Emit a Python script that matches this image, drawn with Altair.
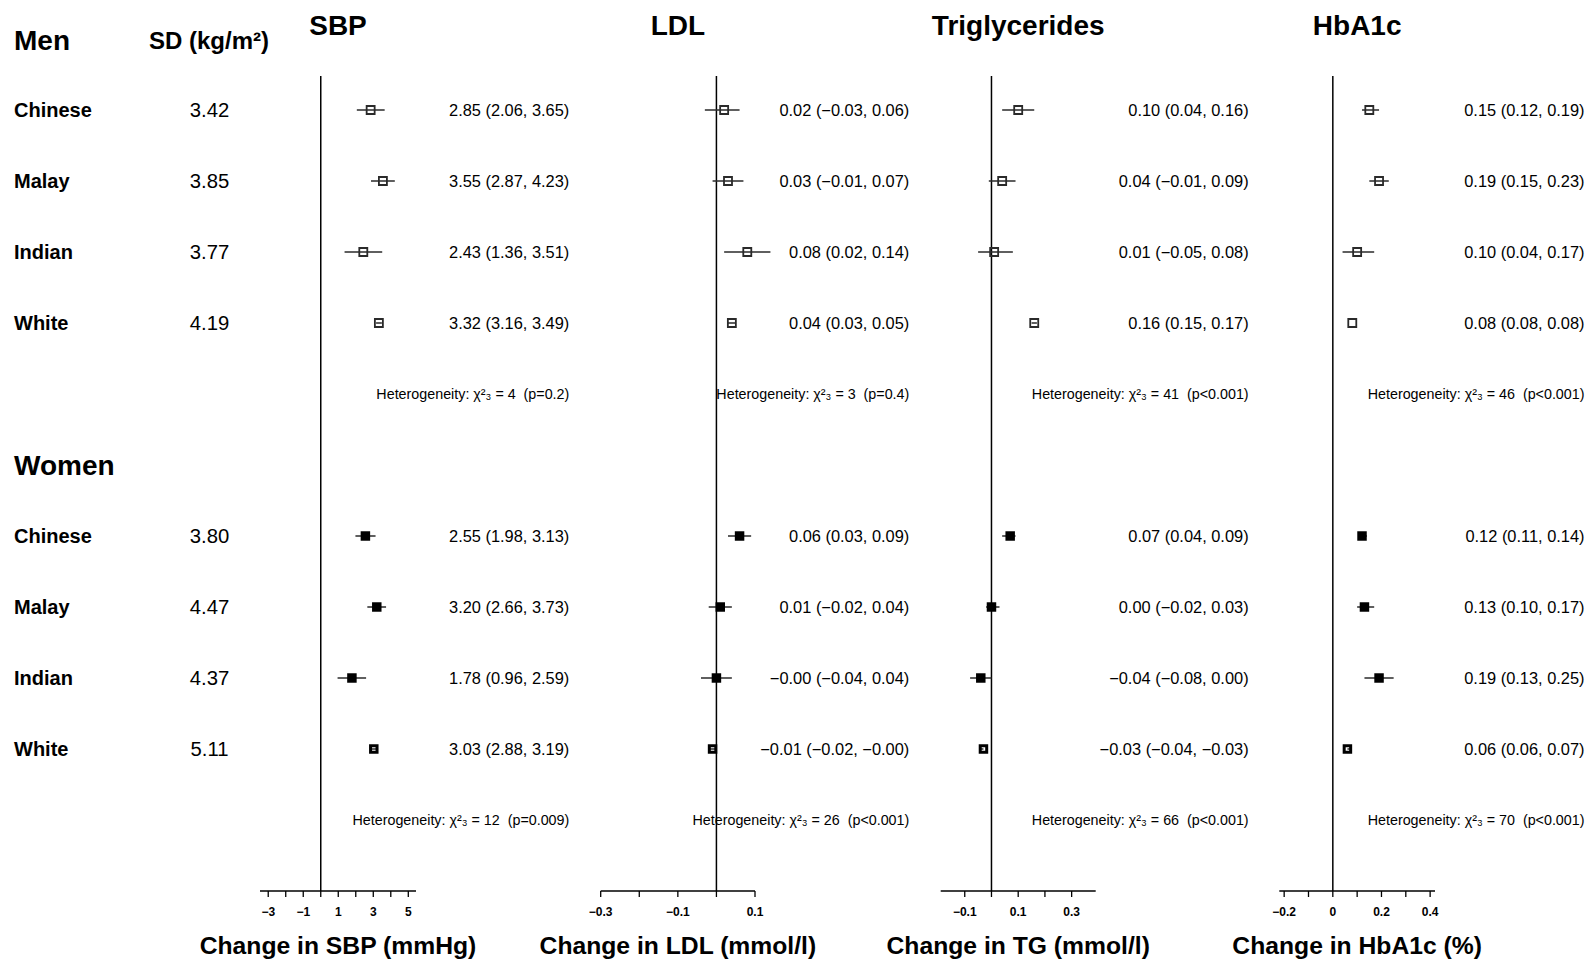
import altair as alt
import pandas as pd

FONT = "Liberation Sans"
NB = "\u00a0"

# ---------------- data ----------------
groups = ["Chinese", "Malay", "Indian", "White"]
sd_men = ["3.42", "3.85", "3.77", "4.19"]
sd_women = ["3.80", "4.47", "4.37", "5.11"]

panels = ["SBP", "LDL", "Triglycerides", "HbA1c"]
axis_titles = ["Change in SBP (mmHg)", "Change in LDL (mmol/l)",
               "Change in TG (mmol/l)", "Change in HbA1c (%)"]

# men
sbp_m_est = [2.85, 3.55, 2.43, 3.32]
sbp_m_lo = [2.06, 2.87, 1.36, 3.16]
sbp_m_hi = [3.65, 4.23, 3.51, 3.49]
ldl_m_est = [0.02, 0.03, 0.08, 0.04]
ldl_m_lo = [-0.03, -0.01, 0.02, 0.03]
ldl_m_hi = [0.06, 0.07, 0.14, 0.05]
tg_m_est = [0.10, 0.04, 0.01, 0.16]
tg_m_lo = [0.04, -0.01, -0.05, 0.15]
tg_m_hi = [0.16, 0.09, 0.08, 0.17]
hb_m_est = [0.15, 0.19, 0.10, 0.08]
hb_m_lo = [0.12, 0.15, 0.04, 0.08]
hb_m_hi = [0.19, 0.23, 0.17, 0.08]
# women
sbp_w_est = [2.55, 3.20, 1.78, 3.03]
sbp_w_lo = [1.98, 2.66, 0.96, 2.88]
sbp_w_hi = [3.13, 3.73, 2.59, 3.19]
ldl_w_est = [0.06, 0.01, -0.00, -0.01]
ldl_w_lo = [0.03, -0.02, -0.04, -0.02]
ldl_w_hi = [0.09, 0.04, 0.04, -0.00]
tg_w_est = [0.07, 0.00, -0.04, -0.03]
tg_w_lo = [0.04, -0.02, -0.08, -0.04]
tg_w_hi = [0.09, 0.03, 0.00, -0.03]
hb_w_est = [0.12, 0.13, 0.19, 0.06]
hb_w_lo = [0.11, 0.10, 0.13, 0.06]
hb_w_hi = [0.14, 0.17, 0.25, 0.07]

sbp_m_lab = ["2.85 (2.06, 3.65)", "3.55 (2.87, 4.23)", "2.43 (1.36, 3.51)", "3.32 (3.16, 3.49)"]
ldl_m_lab = ["0.02 (\u22120.03, 0.06)", "0.03 (\u22120.01, 0.07)", "0.08 (0.02, 0.14)", "0.04 (0.03, 0.05)"]
tg_m_lab = ["0.10 (0.04, 0.16)", "0.04 (\u22120.01, 0.09)", "0.01 (\u22120.05, 0.08)", "0.16 (0.15, 0.17)"]
hb_m_lab = ["0.15 (0.12, 0.19)", "0.19 (0.15, 0.23)", "0.10 (0.04, 0.17)", "0.08 (0.08, 0.08)"]
sbp_w_lab = ["2.55 (1.98, 3.13)", "3.20 (2.66, 3.73)", "1.78 (0.96, 2.59)", "3.03 (2.88, 3.19)"]
ldl_w_lab = ["0.06 (0.03, 0.09)", "0.01 (\u22120.02, 0.04)", "\u22120.00 (\u22120.04, 0.04)", "\u22120.01 (\u22120.02, \u22120.00)"]
tg_w_lab = ["0.07 (0.04, 0.09)", "0.00 (\u22120.02, 0.03)", "\u22120.04 (\u22120.08, 0.00)", "\u22120.03 (\u22120.04, \u22120.03)"]
hb_w_lab = ["0.12 (0.11, 0.14)", "0.13 (0.10, 0.17)", "0.19 (0.13, 0.25)", "0.06 (0.06, 0.07)"]

het_men = ["Heterogeneity: \u03c7\u00b2\u2083 = 4  (p=0.2)", "Heterogeneity: \u03c7\u00b2\u2083 = 3  (p=0.4)",
           "Heterogeneity: \u03c7\u00b2\u2083 = 41  (p<0.001)", "Heterogeneity: \u03c7\u00b2\u2083 = 46  (p<0.001)"]
het_women = ["Heterogeneity: \u03c7\u00b2\u2083 = 12  (p=0.009)", "Heterogeneity: \u03c7\u00b2\u2083 = 26  (p<0.001)",
             "Heterogeneity: \u03c7\u00b2\u2083 = 66  (p<0.001)", "Heterogeneity: \u03c7\u00b2\u2083 = 70  (p<0.001)"]

# axes: extent of the drawn axis line, tick values, labelled ticks
axis_ext = [[-3.47, 5.44], [-0.3, 0.1], [-0.19, 0.39], [-0.22, 0.42]]
tick_vals = [[-3, -2, -1, 0, 1, 2, 3, 4, 5],
             [-0.3, -0.2, -0.1, 0, 0.1],
             [-0.1, 0, 0.1, 0.2, 0.3],
             [-0.2, -0.1, 0, 0.1, 0.2, 0.3, 0.4]]
label_vals = [[-3, -1, 1, 3, 5], [-0.3, -0.1, 0.1], [-0.1, 0.1, 0.3], [-0.2, 0, 0.2, 0.4]]
label_txt = [["\u22123", "\u22121", "1", "3", "5"], ["\u22120.3", "\u22120.1", "0.1"],
             ["\u22120.1", "0.1", "0.3"], ["\u22120.2", "0", "0.2", "0.4"]]

est_m = [sbp_m_est, ldl_m_est, tg_m_est, hb_m_est]
lo_m = [sbp_m_lo, ldl_m_lo, tg_m_lo, hb_m_lo]
hi_m = [sbp_m_hi, ldl_m_hi, tg_m_hi, hb_m_hi]
lab_m = [sbp_m_lab, ldl_m_lab, tg_m_lab, hb_m_lab]
est_w = [sbp_w_est, ldl_w_est, tg_w_est, hb_w_est]
lo_w = [sbp_w_lo, ldl_w_lo, tg_w_lo, hb_w_lo]
hi_w = [sbp_w_hi, ldl_w_hi, tg_w_hi, hb_w_hi]
lab_w = [sbp_w_lab, ldl_w_lab, tg_w_lab, hb_w_lab]

# ---------------- layout ----------------
W, H = 1577, 951          # whole drawing area (autosize none)
PLOT_H = 944              # pixel span used by the row scale
rows_men = [1, 2, 3, 4]
rows_women = [7, 8, 9, 10]
ROW_HET_M, ROW_HET_W, ROW_AXIS = 5, 11, 12
px_range = [[252, 408], [592.7, 747], [932.7, 1087.7], [1271.3, 1427]]
text_right = [561.3, 901.3, 1240.6, 1576.5]
DY = 1 / 71  # one pixel in row units

ys = alt.Scale(domain=[-31 / 71, 913 / 71], range=[0, PLOT_H], nice=False, zero=False)
INK = "#2a2a2a"


def Y(f):
    return alt.Y(f, type="quantitative", scale=ys, axis=None)


def panel(i):
    xs = alt.Scale(domain=axis_ext[i], range=px_range[i], nice=False, zero=False)

    def X(f):
        return alt.X(f, type="quantitative", scale=xs, axis=None)

    mid = (axis_ext[i][0] + axis_ext[i][1]) / 2
    men = pd.DataFrame({"row": rows_men, "est": est_m[i], "lo": lo_m[i], "hi": hi_m[i],
                        "lab": lab_m[i], "grp": groups})
    wom = pd.DataFrame({"row": rows_women, "est": est_w[i], "lo": lo_w[i], "hi": hi_w[i],
                        "lab": lab_w[i], "grp": groups})
    both = pd.concat([men, wom])
    both["trow"] = both["row"] + DY

    zero = alt.Chart(pd.DataFrame({"x": [0], "y": [0.52], "y2": [ROW_AXIS]})).mark_rule(
        color="black", strokeWidth=1.5).encode(x=X("x"), y=Y("y"), y2="y2")
    axline = alt.Chart(pd.DataFrame({"x": [axis_ext[i][0]], "x2": [axis_ext[i][1]],
                                     "y": [ROW_AXIS]})).mark_rule(
        color="black", strokeWidth=1.5).encode(x=X("x"), x2="x2", y=Y("y"))
    ticks = alt.Chart(pd.DataFrame({"x": tick_vals[i], "y": ROW_AXIS,
                                    "y2": ROW_AXIS + 6 / 71})).mark_rule(
        color="black", strokeWidth=1.3).encode(x=X("x"), y=Y("y"), y2="y2")
    tlabels = alt.Chart(pd.DataFrame({"x": label_vals[i], "t": label_txt[i],
                                      "y": ROW_AXIS + 0.30})).mark_text(
        font=FONT, fontSize=12, fontWeight="bold", baseline="middle", color="black").encode(
        x=X("x"), y=Y("y"), text="t")
    ci = alt.Chart(both).mark_rule(color=INK, strokeWidth=1.5).encode(
        x=X("lo"), x2="hi", y=Y("row"))
    sq_m = alt.Chart(men).mark_point(shape="square", filled=False, size=64, stroke=INK,
                                     strokeWidth=1.8, opacity=1).encode(x=X("est"), y=Y("row"))
    sq_w = alt.Chart(wom[wom.grp != "White"]).mark_point(
        shape="square", filled=True, size=90, color="black", opacity=1).encode(
        x=X("est"), y=Y("row"))
    sq_w2 = alt.Chart(wom[wom.grp == "White"]).mark_point(
        shape="square", filled=False, size=42, stroke="black", strokeWidth=3, opacity=1).encode(
        x=X("est"), y=Y("row"))
    cilab = alt.Chart(both).mark_text(font=FONT, fontSize=16.4, align="right",
                                      baseline="middle", color="black").encode(
        x=alt.value(text_right[i]), y=Y("trow"), text="lab")
    het = alt.Chart(pd.DataFrame({"row": [ROW_HET_M + DY, ROW_HET_W + DY],
                                  "t": [het_men[i].replace("  ", NB + NB),
                                        het_women[i].replace("  ", NB + NB)]})).mark_text(
        font=FONT, fontSize=14.3, align="right", baseline="middle", color="black").encode(
        x=alt.value(text_right[i]), y=Y("row"), text="t")
    title = alt.Chart(pd.DataFrame({"x": [mid], "y": [-0.17], "t": [panels[i]]})).mark_text(
        font=FONT, fontSize=28, fontWeight="bold", baseline="middle", color="black").encode(
        x=X("x"), y=Y("y"), text="t")
    atitle = alt.Chart(pd.DataFrame({"x": [mid], "y": [12.887], "t": [axis_titles[i]]})).mark_text(
        font=FONT, fontSize=24.7, fontWeight="bold", baseline="alphabetic", color="black").encode(
        x=X("x"), y=Y("y"), text="t")
    return alt.layer(zero, axline, ticks, tlabels, ci, sq_m, sq_w, sq_w2, cilab, het, title, atitle)


# left label column
left_df = pd.DataFrame({"row": [r + DY for r in rows_men + rows_women], "grp": groups + groups,
                        "sd": sd_men + sd_women})
grp_txt = alt.Chart(left_df).mark_text(font=FONT, fontSize=20, fontWeight="bold", align="left",
                                       baseline="middle", color="black").encode(
    x=alt.value(6), y=Y("row"), text="grp")
sd_txt = alt.Chart(left_df).mark_text(font=FONT, fontSize=20.3, align="center",
                                      baseline="middle", color="black").encode(
    x=alt.value(201.5), y=Y("row"), text="sd")
hdr = alt.Chart(pd.DataFrame({"row": [3 * DY, 6 + 2 * DY], "t": ["Men", "Women"]})).mark_text(
    font=FONT, fontSize=28, fontWeight="bold", align="left", baseline="middle", color="black").encode(
    x=alt.value(6), y=Y("row"), text="t")
sd_hdr = alt.Chart(pd.DataFrame({"row": [3 * DY], "t": ["SD (kg/m\u00b2)"]})).mark_text(
    font=FONT, fontSize=24, fontWeight="bold", align="center", baseline="middle", color="black").encode(
    x=alt.value(201), y=Y("row"), text="t")
left = alt.layer(grp_txt, sd_txt, hdr, sd_hdr)

chart = alt.layer(left, *[panel(i) for i in range(4)]).resolve_scale(
    x="independent").properties(
    width=W, height=H, padding=0, autosize=alt.AutoSizeParams(type="none")
).configure_view(stroke=None)

chart.save("out.html", embed_options={"renderer": "svg", "actions": False})
